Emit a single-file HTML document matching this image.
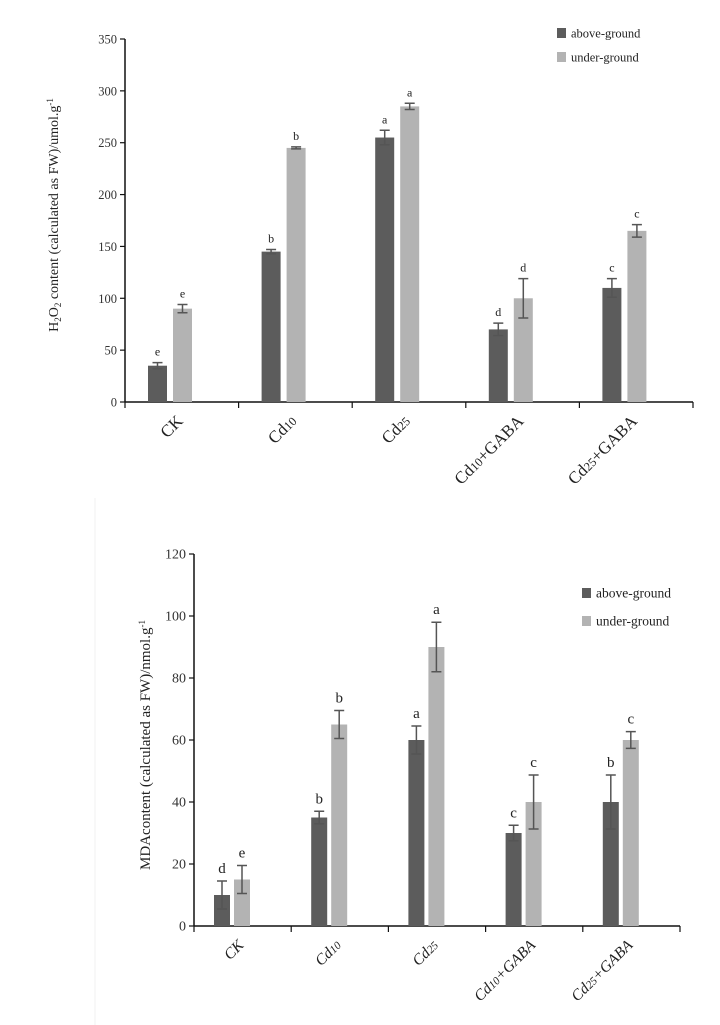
<!DOCTYPE html>
<html><head><meta charset="utf-8"><style>
html,body{margin:0;padding:0;background:#fff;}
svg{display:block;font-family:"Liberation Serif",serif;}
</style></head><body>
<svg id="root" width="720" height="1025" viewBox="0 0 720 1025">
<line x1="95" y1="498" x2="95" y2="1025" stroke="#f2f2f2" stroke-width="1"/>
</svg>
<script>
const categories = ["CK","Cd10","Cd25","Cd10+GABA","Cd25+GABA"];
const h2o2Above = [35,145,255,70,110];
const h2o2AboveErr = [3,2,7,6,9];
const h2o2Under = [90,245,285,100,165];
const h2o2UnderErr = [4,1,3,19,6];
const h2o2AboveLetters = ["e","b","a","d","c"];
const h2o2UnderLetters = ["e","b","a","d","c"];
const h2o2Ticks = [0,50,100,150,200,250,300,350];
const mdaAbove = [10,35,60,30,40];
const mdaAboveErr = [4.5,2,4.5,2.5,8.7];
const mdaUnder = [15,65,90,40,60];
const mdaUnderErr = [4.5,4.5,8,8.7,2.7];
const mdaAboveLetters = ["d","b","a","c","b"];
const mdaUnderLetters = ["e","b","a","c","c"];
const mdaTicks = [0,20,40,60,80,100,120];

const NS="http://www.w3.org/2000/svg";
const root=document.getElementById('root');
function mk(tag,attrs,parent){const e=document.createElementNS(NS,tag);for(const k in attrs)e.setAttribute(k,attrs[k]);(parent||root).appendChild(e);return e;}

function catLabel(g,name,x,y,fs,italic){
  const t=mk('text',{x:x,y:y,'text-anchor':'end','font-size':fs,'font-style':italic?'italic':'normal',fill:'#222',transform:`rotate(-45 ${x} ${y})`},g);
  const m=name.match(/^Cd(\d+)(.*)$/);
  if(m){
    t.appendChild(document.createTextNode('Cd'));
    const s=mk('tspan',{'font-size':fs*0.72},t);s.textContent=m[1];
    if(m[2]){const r=mk('tspan',{},t);r.textContent=m[2];}
  } else t.textContent=name;
  
  
}

function chart(cfg){
  const g=mk('g',{});
  
  
  const yS=v=>cfg.y0-(v/cfg.max)*(cfg.y0-cfg.yTop);
  const gw=(cfg.x1-cfg.x0)/categories.length;
  const xG=i=>cfg.x0+i*gw;
  const ya=mk('line',{x1:cfg.x0,y1:yS(cfg.max),x2:cfg.x0,y2:cfg.y0,stroke:'#111','stroke-width':1.5},g);
  
  const xa=mk('line',{x1:cfg.x0,y1:cfg.y0,x2:cfg.x1,y2:cfg.y0,stroke:'#111','stroke-width':1.5},g);
  
  cfg.ticks.forEach(v=>{
    const y=yS(v);
    mk('line',{x1:cfg.x0-5,y1:y,x2:cfg.x0,y2:y,stroke:'#111','stroke-width':1.2},g);
    const t=mk('text',{x:cfg.x0-8,y:y+4.5,'text-anchor':'end','font-size':cfg.tfs,fill:'#333'},g);
    t.textContent=v;
    
    
  });
  for(let i=0;i<=categories.length;i++){
    mk('line',{x1:xG(i),y1:cfg.y0,x2:xG(i),y2:cfg.y0+6,stroke:'#111','stroke-width':1.2},g);
  }
  const series=[[cfg.above,cfg.aboveErr,cfg.aboveL,'#5c5c5c',cfg.off1,'bar-above-ground'],[cfg.under,cfg.underErr,cfg.underL,'#b3b3b3',cfg.off2,'bar-under-ground']];
  categories.forEach((c,i)=>{
    series.forEach(s=>{
      const v=s[0][i],e=s[1][i];
      const x=xG(i)+s[4],w=cfg.bw,cx=x+w/2;
      const r=mk('rect',{x:x,y:yS(v),width:w,height:cfg.y0-yS(v),fill:s[3]},g);
      
      
      const eb=mk('path',{d:`M${cx},${yS(v+e)}V${yS(v-e)}M${cx-5},${yS(v+e)}H${cx+5}M${cx-5},${yS(v-e)}H${cx+5}`,stroke:'#555','stroke-width':1.5,fill:'none'},g);
      
      
      const l=mk('text',{x:cx,y:yS(v+e)-cfg.lgap,'text-anchor':'middle','font-size':cfg.lfs,fill:'#222'},g);
      l.textContent=s[2][i];
      
      
    });
    catLabel(g,c,xG(i)+gw/2+cfg.lx,cfg.y0+cfg.ly,cfg.cfs,cfg.italic);
  });
  const tt=mk('text',{x:cfg.tx,y:cfg.ty,'text-anchor':'middle','font-size':cfg.titfs,fill:'#222',transform:`rotate(-90 ${cfg.tx} ${cfg.ty})`},g);
  
  
  cfg.title(tt);
  [['above-ground','#5c5c5c',cfg.legY1],['under-ground','#b3b3b3',cfg.legY2]].forEach(L=>{
    const sq=mk('rect',{x:cfg.legX,y:L[2]-5,width:9,height:10,fill:L[1]},g);
    
    
    const t=mk('text',{x:cfg.legX+14,y:L[2]+4.5,'font-size':cfg.legfs,fill:'#222'},g);
    t.textContent=L[0];
    
    
  });
}
function sp(t,txt,attrs){const s=mk('tspan',attrs||{},t);s.textContent=txt;return s;}

chart({name:'h2o2-chart',x0:125,x1:693,y0:402,yTop:39,max:350,ticks:h2o2Ticks,
  above:h2o2Above,aboveErr:h2o2AboveErr,aboveL:h2o2AboveLetters,
  under:h2o2Under,underErr:h2o2UnderErr,underL:h2o2UnderLetters,
  off1:23,off2:48,bw:19,tfs:12.5,lfs:12,lgap:7,cfs:17,lx:2,ly:20,italic:false,
  tx:58,ty:215,titfs:14,
  title:t=>{sp(t,'H');sp(t,'2',{'font-size':9,dy:3});sp(t,'O',{dy:-3});sp(t,'2',{'font-size':9,dy:3});sp(t,' content (calculated as FW)/umol.g',{dy:-3});sp(t,'-1',{'font-size':9,dy:-5});},
  legX:557,legY1:33,legY2:57,legfs:12.5});

chart({name:'mda-chart',x0:194,x1:680,y0:926,yTop:554,max:120,ticks:mdaTicks,
  above:mdaAbove,aboveErr:mdaAboveErr,aboveL:mdaAboveLetters,
  under:mdaUnder,underErr:mdaUnderErr,underL:mdaUnderLetters,
  off1:20,off2:40,bw:16,tfs:14,lfs:15,lgap:8,cfs:15.5,lx:2,ly:20,italic:true,
  tx:150,ty:745,titfs:15,
  title:t=>{sp(t,'MDAcontent (calculated as FW)/nmol.g');sp(t,'-1',{'font-size':9,dy:-5});},
  legX:582,legY1:593,legY2:621,legfs:13.5});
</script>
</body></html>
